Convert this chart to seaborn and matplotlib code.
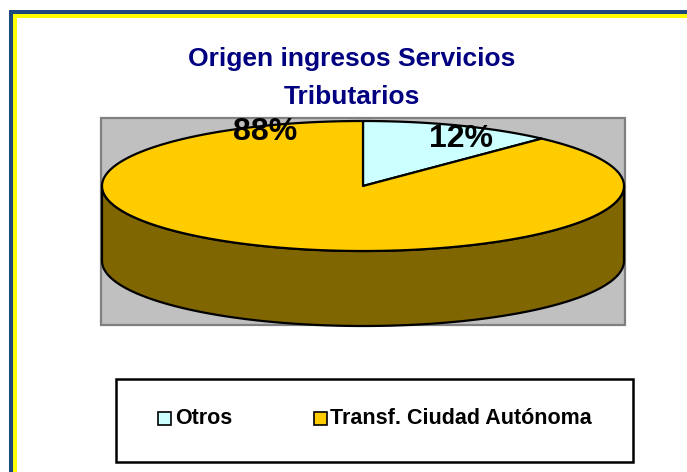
import numpy as np
import matplotlib
matplotlib.use("Agg")
import matplotlib.pyplot as plt
from matplotlib.patches import Polygon, Rectangle
import seaborn as sns

sns.set_theme(style="white")
plt.rcParams["font.family"] = ["Liberation Sans", "DejaVu Sans"]

# data
categories = ["Otros", "Transf. Ciudad Autónoma"]
shares = [12, 88]
pct_labels = ["12%", "88%"]
title_lines = ["Origen ingresos Servicios", "Tributarios"]

top_colors = sns.color_palette(["#CCFFFF", "#FFCC00"])
side_colors = sns.color_palette(["#668080", "#806600"])

W, H = 687, 472
fig = plt.figure(figsize=(W / 100, H / 100), dpi=100)
ax = fig.add_axes([0, 0, 1, 1])
ax.set_xlim(0, W)
ax.set_ylim(H, 0)
ax.axis("off")

# frame lines on the left and top
ax.add_patch(Rectangle((9, 10), 4, H, color="#1F497D", lw=0))
ax.add_patch(Rectangle((9, 10), W, 4, color="#1F497D", lw=0))
ax.add_patch(Rectangle((13, 14), 4, H, color="#FFFF00", lw=0))
ax.add_patch(Rectangle((13, 14), W, 3.5, color="#FFFF00", lw=0))

# plot area
ax.add_patch(Rectangle((101, 118), 524, 207, facecolor="#C0C0C0",
                       edgecolor="#808080", lw=1.6))

# 3-D pie geometry
cx, cy, a, b, depth = 363, 186, 261, 65, 75


def ell(t_deg, dy=0.0):
    t = np.radians(t_deg)
    return np.column_stack([cx + a * np.cos(t), cy + dy - b * np.sin(t)])


total = float(sum(shares))
starts, ends = [], []
ang = 90.0
for v in shares:
    starts.append(ang)
    ang -= 360.0 * v / total
    ends.append(ang)

# side walls (front half only: angles between -180 and 0)
for s, e, c in zip(starts, ends, side_colors):
    lo, hi = max(e, -180.0), min(s, 0.0)
    if lo >= hi:
        continue
    t = np.linspace(hi, lo, 200)
    pts = np.vstack([ell(t), ell(t[::-1], depth)])
    ax.add_patch(Polygon(pts, closed=True, facecolor=c, edgecolor="black",
                         lw=1.6, joinstyle="round"))

# top faces
for s, e, c in zip(starts, ends, top_colors):
    t = np.linspace(s, e, 300)
    pts = np.vstack([[cx, cy], ell(t)])
    ax.add_patch(Polygon(pts, closed=True, facecolor=c, edgecolor="black",
                         lw=1.6, joinstyle="round"))

# percentage labels
label_pos = [(461, 139), (265, 132)]
for txt, (x, y) in zip(pct_labels, label_pos):
    ax.text(x, y, txt, ha="center", va="center", fontsize=23,
            fontweight="bold", color="black")

# title
ax.text(352, 59, title_lines[0], ha="center", va="center", fontsize=19,
        fontweight="bold", color="#000080")
ax.text(352, 97, title_lines[1], ha="center", va="center", fontsize=19,
        fontweight="bold", color="#000080")

# legend box
ax.add_patch(Rectangle((116, 379), 517, 83, facecolor="white",
                       edgecolor="black", lw=1.8))
marker_x = [158, 314]
text_x = [175, 330]
for mx, tx, c, name in zip(marker_x, text_x, top_colors, categories):
    ax.add_patch(Rectangle((mx, 412), 13, 13, facecolor=c,
                           edgecolor="black", lw=1.2))
    ax.text(tx, 419, name, ha="left", va="center", fontsize=15.5,
            fontweight="bold", color="black")

fig.savefig("out.png", dpi=100)
